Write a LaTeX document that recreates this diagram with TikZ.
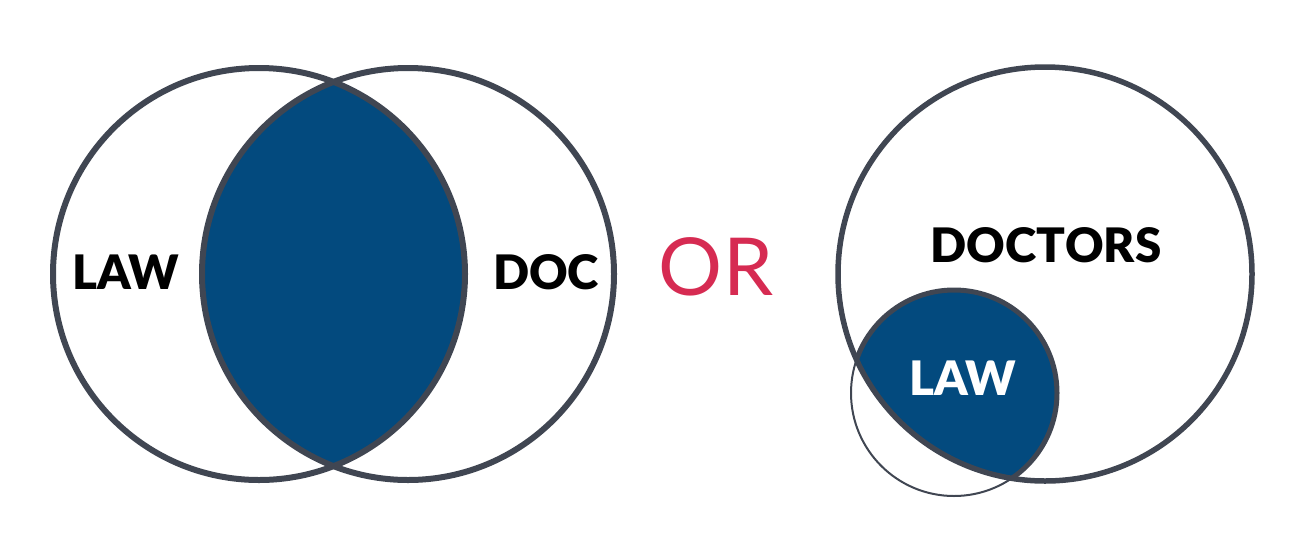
\documentclass[tikz,border=0pt]{standalone}
\usepackage{fontspec}
\setmainfont{Lato}[BoldFont=Lato Black]
\definecolor{ringgray}{RGB}{64,70,82}
\definecolor{navy}{RGB}{3,74,126}
\definecolor{orred}{RGB}{214,43,82}
\tikzset{
  ring/.style={draw=ringgray, line width=6pt},
  thinring/.style={draw=ringgray, line width=2pt},
  lbl/.style={font=\bfseries\fontsize{47.5}{47.5}\selectfont, text=black, inner sep=0pt},
}
\begin{document}
\begin{tikzpicture}[x=1pt,y=-1pt]
\useasboundingbox (0,0) rectangle (1308,547);
% centres
\coordinate (cl) at (259,274);
\coordinate (cr) at (408,274);
\coordinate (cb) at (1045,274);
\coordinate (cs) at (954,393);
% left Venn: lens
\begin{scope}
  \clip (cl) circle [radius=206pt];
  \fill[navy] (cr) circle [radius=206pt];
\end{scope}
\draw[ring] (cl) circle [radius=206pt];
\draw[ring] (cr) circle [radius=206pt];
\node[lbl] (law1) at (126,272) {LAW};
\node[lbl] (doc) at (546,272.5) {DOC};
% OR
\node[font=\fontsize{80}{80}\selectfont, text=orred, inner sep=0pt] (or) at (716,267) {OR};
% right: subset-ish
\begin{scope}
  \clip (cb) circle [radius=207pt];
  \fill[navy] (cs) circle [radius=103pt];
  \draw[ring, line width=5pt] (cs) circle [radius=103pt];
\end{scope}
\draw[thinring] (cs) circle [radius=103pt];
\draw[ring, line width=5.5pt] (cb) circle [radius=207pt];
\node[lbl] (doctors) at (1046,245.5) {DOCTORS};
\node[lbl, text=white] (law2) at (963,378.5) {LAW};
\end{tikzpicture}
\end{document}
